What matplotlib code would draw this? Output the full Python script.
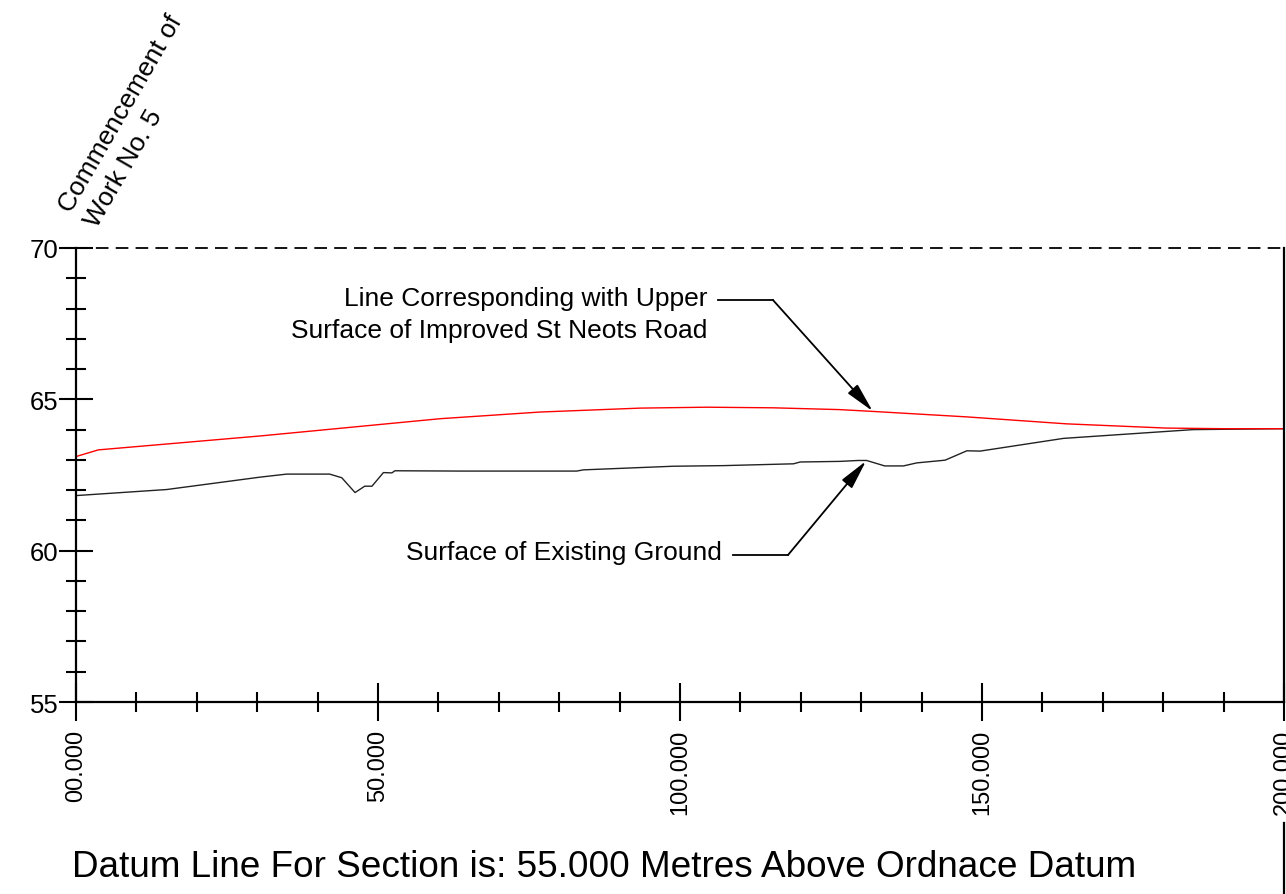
"""
Long section: existing ground vs improved road surface
"""
import matplotlib
import matplotlib.pyplot as plt

matplotlib.use("Agg")
plt.rcParams["font.family"] = ["Liberation Sans", "DejaVu Sans"]

# chainage (m) and levels (m AOD)
ground_x = [0, 15.0, 30.5, 34.9, 42.0, 44.0, 46.2, 47.8, 49.0, 50.9, 52.3, 52.8,
            63.6, 82.9, 84.0, 98.9, 107.2, 118.8, 119.9, 126.5, 129.5, 130.9,
            133.9, 137.0, 139.2, 143.9, 147.5, 149.7, 163.5, 185.0, 200.0]
ground_y = [61.82, 62.02, 62.43, 62.53, 62.53, 62.41, 61.92, 62.13, 62.13, 62.58,
            62.57, 62.64, 62.63, 62.63, 62.67, 62.79, 62.81, 62.87, 62.93, 62.95,
            62.98, 62.98, 62.80, 62.80, 62.90, 62.99, 63.30, 63.29, 63.71, 64.00,
            64.03]

road_x = [0, 3.7, 30.5, 60.3, 76.8, 93.4, 104.4, 115.4, 126.5, 132.0, 147.5,
          164.0, 180.6, 190.0, 200.0]
road_y = [63.11, 63.33, 63.79, 64.36, 64.58, 64.71, 64.74, 64.72, 64.66, 64.60,
          64.42, 64.19, 64.05, 64.03, 64.03]

x_ticks = [0, 50, 100, 150, 200]
x_tick_labels = ["00.000", "50.000", "100.000", "150.000", "200.000"]
y_ticks = [55, 60, 65, 70]
datum = 55.0


def main():
    fig = plt.figure(figsize=(12.86, 8.95), dpi=100)
    ax = fig.add_axes([0.0591, 0.2145, 0.9393, 0.5073])

    ax.plot(ground_x, ground_y, color="#222222", lw=1.0)
    ax.plot(road_x, road_y, color="red", lw=1.0)

    ax.set_xlim(0, 200)
    ax.set_ylim(55, 70)

    # spines: dashed top line, solid frame elsewhere
    ax.spines["top"].set_visible(False)
    for side in ["left", "bottom", "right"]:
        ax.spines[side].set_linewidth(1.6)
    ax.plot([0, 200], [70, 70], color="black", lw=1.3,
            linestyle=(0, (7, 4)), clip_on=False)

    # ticks
    ax.set_xticks(x_ticks)
    ax.set_xticklabels(x_tick_labels, rotation=90, va="top")
    ax.set_xticks(range(0, 201, 10), minor=True)
    ax.set_yticks(y_ticks)
    ax.set_yticklabels([str(v) for v in y_ticks])
    ax.set_yticks(range(55, 71), minor=True)
    ax.tick_params(axis="x", which="major", direction="inout", length=28,
                   width=1.5, labelsize=17, pad=5)
    ax.tick_params(axis="x", which="minor", direction="inout", length=14,
                   width=1.5)
    ax.tick_params(axis="y", which="major", direction="inout", length=25,
                   width=1.5, labelsize=18.5, pad=0)
    ax.tick_params(axis="y", which="minor", direction="inout", length=14,
                   width=1.5)

    # right edge carries on below the labels
    ax.plot([200, 200], [51.0, 48.5], color="black", lw=1.6, clip_on=False)

    # leader notes
    ax.plot([106.3, 115.4], [68.28, 68.28], color="black", lw=1.3, clip_on=False)
    ax.annotate("", xy=(131.9, 64.61), xytext=(115.4, 68.28),
                arrowprops=dict(arrowstyle="-|>,head_length=0.9,head_width=0.2",
                                color="black", lw=1.3, mutation_scale=20,
                                shrinkA=0, shrinkB=0))
    ax.text(104.5, 67.82, "Line Corresponding with Upper\nSurface of Improved St Neots Road",
            ha="right", va="center", multialignment="right", fontsize=19,
            linespacing=1.4)

    ax.plot([108.8, 117.9], [59.86, 59.86], color="black", lw=1.3, clip_on=False)
    ax.annotate("", xy=(130.8, 62.96), xytext=(117.9, 59.86),
                arrowprops=dict(arrowstyle="-|>,head_length=0.9,head_width=0.2",
                                color="black", lw=1.3, mutation_scale=20,
                                shrinkA=0, shrinkB=0))
    ax.text(107.0, 59.96, "Surface of Existing Ground", ha="right", va="center",
            fontsize=19)

    fig.text(0.079, 0.7408, "Commencement of\nWork No. 5", rotation=60,
             rotation_mode="anchor", ha="left", va="bottom", fontsize=19,
             linespacing=1.35)

    fig.text(72 / 1286, 1 - 868 / 895,
             f"Datum Line For Section is: {datum:.3f} Metres Above Ordnace Datum",
             ha="left", va="center", fontsize=26.6)

    fig.savefig("out.png", dpi=100)


if __name__ == "__main__":
    main()
